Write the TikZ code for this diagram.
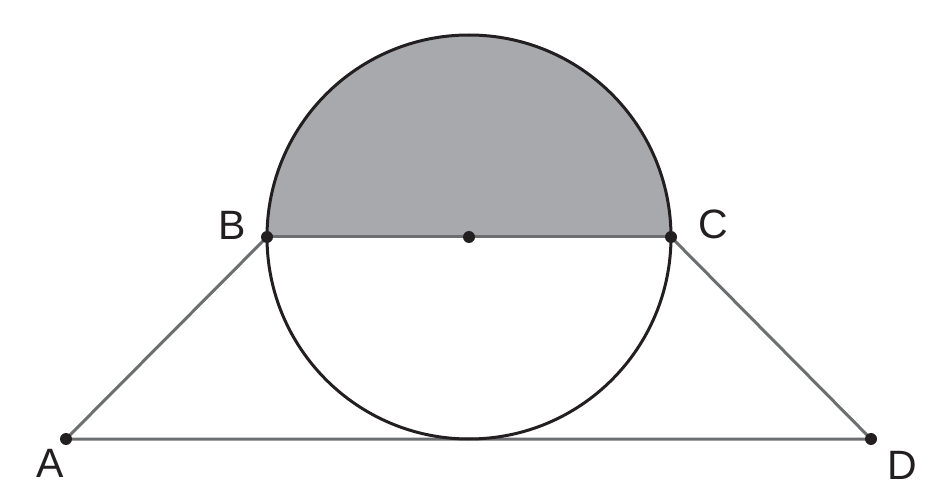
\documentclass[tikz,border=0pt]{standalone}
\usepackage{fontspec}
\setmainfont{Liberation Sans}
\definecolor{fond}{HTML}{A7A9AC}
\definecolor{trait}{HTML}{6D6E71}
\definecolor{encre}{HTML}{231F20}

\begin{document}
\begin{tikzpicture}[x=1pt, y=1pt]
			\tikzset{point/.style={circle, fill=encre, minimum size=12pt, inner sep=0pt},
			cote/.style={line width=3pt, draw=trait},
			lettre/.style={text=encre, font=\fontsize{41}{41}\selectfont}};

			\useasboundingbox (0,0) rectangle (930,480);

			\fill[fond] (267,243) arc[start angle=180, end angle=0, radius=202] -- cycle;

			\foreach \name/\x/\y in {A/66/41, B/267/243, O/469/243, C/671/243, D/871/41}{
				\coordinate (\name) at (\x, \y);
			}

			\draw[cote] (B) -- (A) -- (D) -- (C);
			\draw[cote] (B) -- (C);
			\draw[line width=3pt, encre] (O) circle[radius=202];

			\foreach \name in {A, B, O, C, D}{
				\node[point] (p-\name) at (\name) {};
			}

			\node[lettre] (l-A) at (50,17) {A};
			\node[lettre] (l-B) at (232,255) {B};
			\node[lettre] (l-C) at (713,256) {C};
			\node[lettre] (l-D) at (902,15) {D};

		\end{tikzpicture}
\end{document}
